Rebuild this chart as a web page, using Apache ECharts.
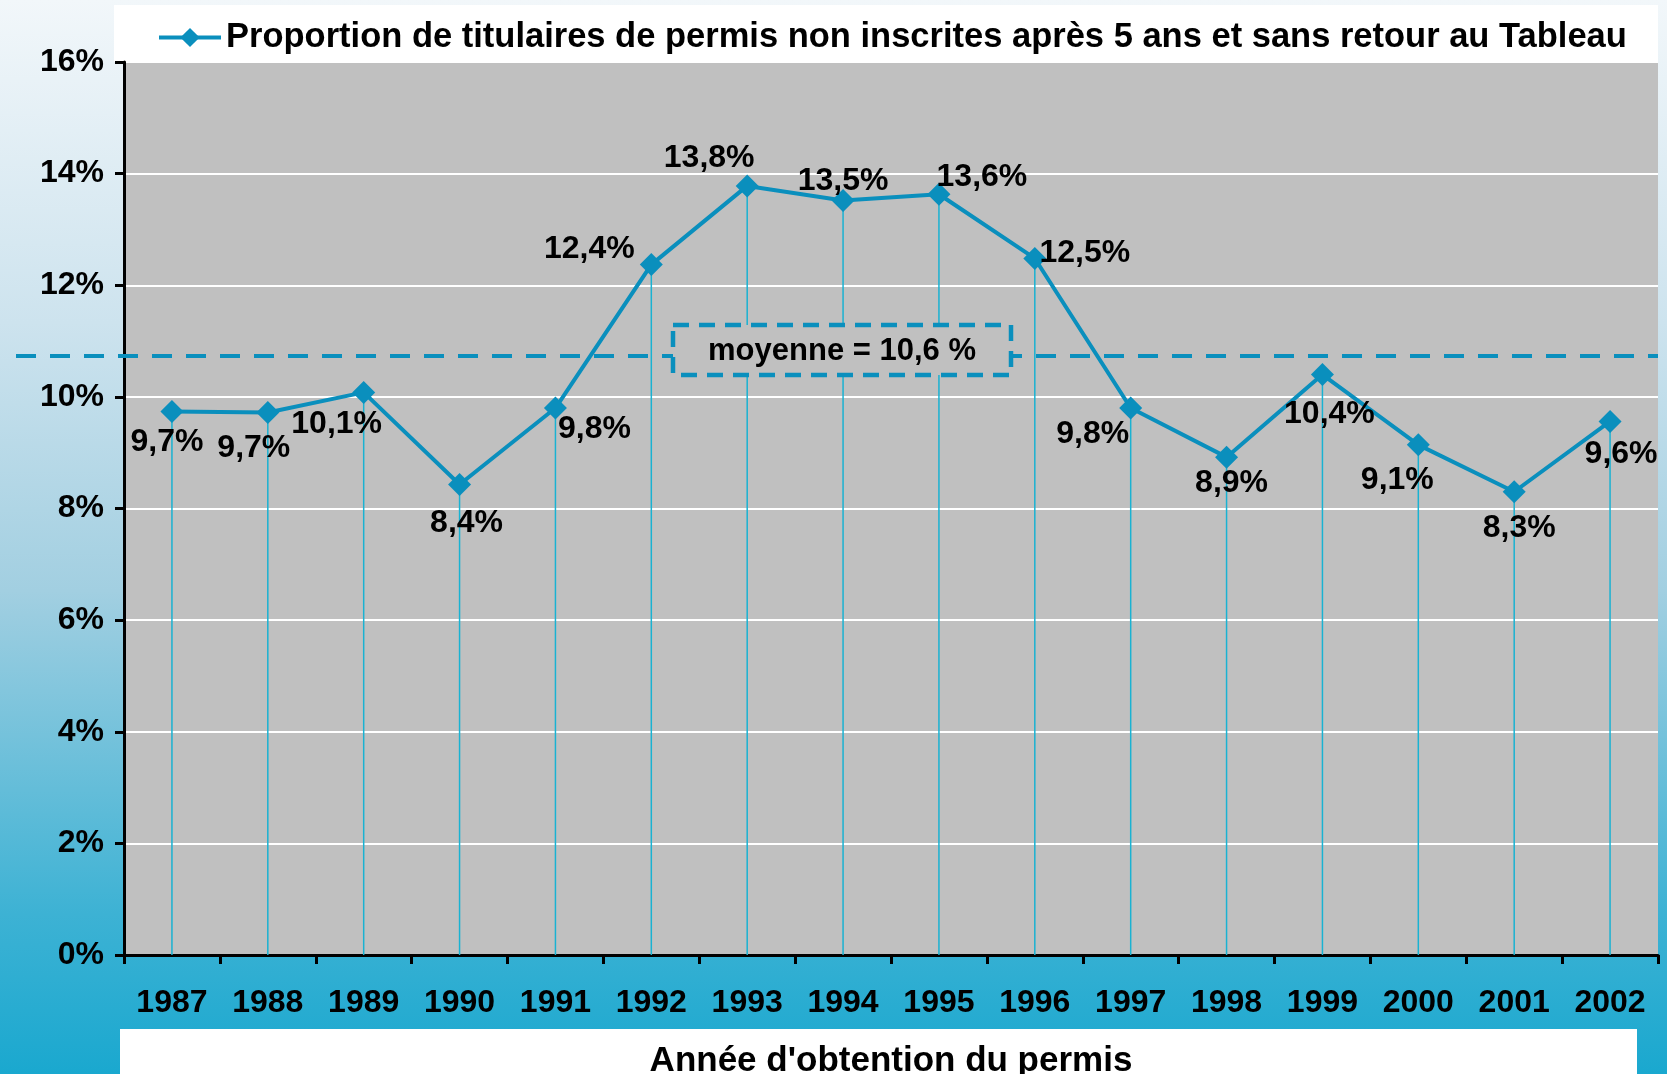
<!DOCTYPE html>
<html>
<head>
<meta charset="utf-8">
<script src="https://cdn.jsdelivr.net/npm/echarts@6/dist/echarts.min.js"></script>
<style>
  html, body { margin: 0; padding: 0; }
  #chart { width: 1667px; height: 1074px; }
</style>
</head>
<body>
<div id="chart"></div>
<script>
var years = ['1987', '1988', '1989', '1990', '1991', '1992', '1993', '1994',
  '1995', '1996', '1997', '1998', '1999', '2000', '2001', '2002'];
var proportion = [9.74, 9.72, 10.08, 8.43, 9.8, 12.37, 13.78, 13.52,
  13.63, 12.48, 9.8, 8.92, 10.4, 9.14, 8.3, 9.56];
var yTicks = [0, 2, 4, 6, 8, 10, 12, 14, 16];
var meanText = '10,6';
var meanLine = 10.73; // where the dashed line sits in the picture

var seriesName = 'Proportion de titulaires de permis non inscrites après 5 ans et sans retour au Tableau';

// label offsets (px) relative to each point
var labelOffsets = [[-5, 31], [-14, 36], [-27, 32], [7, 39], [39, 21], [-62, -15],
  [-38, -28], [0, -19], [43, -17], [50, -5], [-38, 26], [5, 26],
  [7, 40], [-21, 35], [5, 36], [11, 33]];

var font = '"Liberation Sans", Arial, sans-serif';
var blue = '#0a8fbd';

var el = document.getElementById('chart');
var myChart = echarts.init(el);

var lineData = proportion.map(function (v, i) {
  return {
    value: v,
    label: { offset: labelOffsets[i] }
  };
});

var option = {
  animation: false,
  backgroundColor: new echarts.graphic.LinearGradient(0, 0, 0, 1, [
    { offset: 0, color: '#f2f7fa' },
    { offset: 0.3, color: '#cde3ee' },
    { offset: 0.55, color: '#a2cfe1' },
    { offset: 0.85, color: '#3db2d4' },
    { offset: 1, color: '#1aa8cf' }
  ]),
  textStyle: { fontFamily: font },
  graphic: [
    { type: 'rect', z: -1, shape: { x: 114, y: 5, width: 1544, height: 57 }, style: { fill: '#ffffff' } },
    { type: 'rect', z: -1, shape: { x: 120, y: 1029, width: 1517, height: 45 }, style: { fill: '#ffffff' } },
    {
      type: 'rect', z: 50,
      shape: { x: 673, y: 325, width: 338, height: 50 },
      style: { fill: '#c0c0c0', stroke: blue, lineWidth: 4.5, lineDash: [16, 10] }
    },
    {
      type: 'text', z: 51, x: 842, y: 351,
      style: {
        text: 'moyenne = ' + meanText + ' %',
        fill: '#000', font: 'bold 31px ' + font,
        align: 'center', verticalAlign: 'middle'
      }
    }
  ],
  legend: {
    data: [seriesName],
    left: 152, top: 15,
    itemWidth: 62, itemHeight: 24,
    itemGap: 0,
    lineStyle: { width: 4 },
    textStyle: { fontSize: 34.5, fontWeight: 'bold', color: '#000', fontFamily: font }
  },
  grid: [
    {
      left: 124, right: 9, top: 62, bottom: 119,
      outerBoundsMode: 'none',
      show: true, backgroundColor: '#c0c0c0', borderWidth: 0
    },
    { left: 16, right: 9, top: 62, bottom: 119, outerBoundsMode: 'none', show: false }
  ],
  xAxis: [
    {
      type: 'category', data: years, gridIndex: 0,
      name: "Année d'obtention du permis",
      nameLocation: 'middle', nameGap: 89,
      nameTextStyle: { fontSize: 35, fontWeight: 'bold', color: '#000', fontFamily: font },
      axisLine: { lineStyle: { color: '#000', width: 3 } },
      axisTick: { show: true, length: 9, lineStyle: { color: '#000', width: 3 } },
      axisLabel: { margin: 32, fontSize: 32, fontWeight: 'bold', color: '#000', fontFamily: font }
    },
    { type: 'category', data: years, gridIndex: 1, show: false }
  ],
  yAxis: [
    {
      type: 'value', gridIndex: 0,
      min: yTicks[0], max: yTicks[yTicks.length - 1], interval: 2,
      axisLine: { show: true, lineStyle: { color: '#000', width: 3 } },
      axisTick: { show: true, length: 9, lineStyle: { color: '#000', width: 3 } },
      axisLabel: {
        margin: 20, fontSize: 32, fontWeight: 'bold', color: '#000', fontFamily: font,
        formatter: '{value}%'
      },
      splitLine: { show: true, lineStyle: { color: '#ffffff', width: 2 } }
    },
    { type: 'value', gridIndex: 1, min: 0, max: 16, show: false }
  ],
  series: [
    {
      name: 'drop', type: 'bar', xAxisIndex: 0, yAxisIndex: 0,
      data: proportion, barWidth: 1.5,
      itemStyle: { color: '#1ab2d2' },
      silent: true, z: 1
    },
    {
      name: seriesName, type: 'line', xAxisIndex: 0, yAxisIndex: 0,
      data: lineData,
      symbol: 'diamond', symbolSize: 23,
      lineStyle: { color: blue, width: 4 },
      itemStyle: { color: blue },
      z: 5,
      label: {
        show: true, position: 'inside',
        align: 'center', verticalAlign: 'middle',
        fontSize: 32, fontWeight: 'bold', color: '#000', fontFamily: font,
        formatter: function (p) {
          return p.value.toFixed(1).replace('.', ',') + '%';
        }
      }
    },
    {
      name: 'moyenne', type: 'line', xAxisIndex: 1, yAxisIndex: 1,
      data: [], silent: true, z: 4,
      markLine: {
        symbol: 'none', silent: true,
        label: { show: false },
        lineStyle: { color: blue, width: 4, type: [20, 14] },
        data: [{ yAxis: meanLine }]
      }
    }
  ]
};
myChart.setOption(option);
</script>
</body>
</html>
